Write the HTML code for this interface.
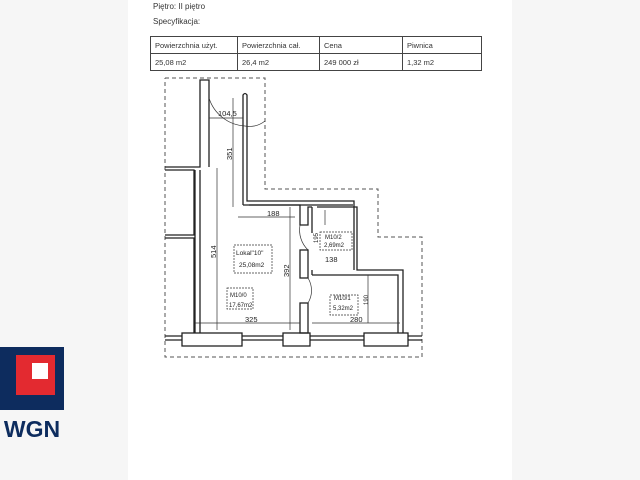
<!DOCTYPE html>
<html><head><meta charset="utf-8"><style>
body{margin:0;width:640px;height:480px;background:#f6f6f6;position:relative;overflow:hidden;font-family:"Liberation Sans",sans-serif}
.page{position:absolute;left:128px;top:0;width:384px;height:480px;background:#fff}
.t{position:absolute;font-size:8px;color:#333}
table{position:absolute;left:150px;top:36px;border-collapse:collapse;font-size:7.5px;color:#333}
td{border:1px solid #444;height:16px;padding:0 4px;vertical-align:middle}
</style></head><body>
<div class="page"></div>
<div class="t" style="left:153px;top:2px">Piętro: II piętro</div>
<div class="t" style="left:153px;top:17px">Specyfikacja:</div>
<table><tr><td style="width:78px">Powierzchnia użyt.</td><td style="width:73px">Powierzchnia cał.</td><td style="width:74px">Cena</td><td style="width:70px">Piwnica</td></tr>
<tr><td>25,08 m2</td><td>26,4 m2</td><td>249 000 zł</td><td>1,32 m2</td></tr></table>
<svg style="position:absolute;left:0;top:0" width="640" height="480">
<g fill="none" stroke="#555" stroke-width="1" stroke-dasharray="4,3">
<polyline points="165,78 265,78 265,189 378,189 378,237 422,237 422,357 165,357 165,78"/>
</g>
<g fill="none" stroke="#222" stroke-width="1.3">
<polyline points="165,167 200,167 200,80 209,80 209,167"/>
<polyline points="195,170 195,333"/><polyline points="200,170 200,333"/>
<polyline points="165,170 194,170 194,235 165,235"/>
<polyline points="165,238 194,238 194,333"/>
<path d="M243,205 V95 Q245,92 247,95 V201 H354 V270 M243,205 H300 V225 H308 V207 H312 M317,207 H357 V270 H403 V333"/>
<path d="M249,205 H353 M357,275 H398 V333"/>
<rect x="300" y="250" width="8" height="28"/><rect x="300" y="303" width="8" height="30"/>
<path d="M312,207 V233 M312,275 H357 M312,270 V275"/>
<rect x="182" y="333" width="60" height="13"/><rect x="283" y="333" width="27" height="13"/><rect x="364" y="333" width="44" height="13"/>
<path d="M165,336 H182 M242,336 H283 M310,336 H364 M408,336 H422 M165,340 H182 M242,340 H283 M310,340 H364 M408,340 H422"/>
</g>
<g fill="none" stroke="#333" stroke-width="0.7">
<path d="M209,98 A40,40 0 0 0 245,126 M245,126 A25,25 0 0 0 265,121"/>
<path d="M300,225 A28,28 0 0 0 308,250"/><path d="M308,278 A24,24 0 0 1 308,303"/>
<path d="M233,98 V207 M209,118 H243 M238,217 H295 M217,168 V330 M290,207 V330 M195,323 H300 M312,323 H400 M368,275 V323 M325,210 V225"/>
<rect x="234" y="245" width="38" height="28" stroke-dasharray="2,1"/><rect x="227" y="288" width="26" height="21" stroke-dasharray="2,1"/>
<rect x="320" y="232" width="32" height="18" stroke-dasharray="2,1"/><rect x="330" y="295" width="28" height="20" stroke-dasharray="2,1"/>
</g>
<g font-family="Liberation Sans,sans-serif" font-size="7.5" fill="#222">
<text x="218" y="116">104,5</text>
<text x="267" y="216">188</text><text x="325" y="262">138</text>
<text x="245" y="322">325</text><text x="350" y="322">280</text>
<text x="236" y="255" font-size="6.5">Lokal"10"</text><text x="239" y="267" font-size="6.5">25,08m2</text>
<text x="230" y="297" font-size="6">M10/0</text><text x="229" y="307" font-size="6">17,67m2</text>
<text x="325" y="239" font-size="6">M10/2</text><text x="324" y="247" font-size="6">2,69m2</text>
<text x="334" y="300" font-size="6">M10/1</text><text x="333" y="310" font-size="6">5,32m2</text>
<text transform="translate(232,160) rotate(-90)">351</text>
<text transform="translate(216,258) rotate(-90)">514</text>
<text transform="translate(289,277) rotate(-90)">392</text>
<text transform="translate(318,243) rotate(-90)" font-size="6">195</text>
<text transform="translate(368,305) rotate(-90)" font-size="6">190</text>
</g>
<rect x="0" y="347" width="64" height="63" fill="#0d2c5e"/>
<rect x="16" y="355" width="39" height="40" fill="#e32a30"/>
<rect x="32" y="363" width="16" height="16" fill="#fff"/>
<text x="32" y="437" text-anchor="middle" font-family="Liberation Sans,sans-serif" font-weight="bold" font-size="23" fill="#0d2c5e">WGN</text>
</svg>
</body></html>
